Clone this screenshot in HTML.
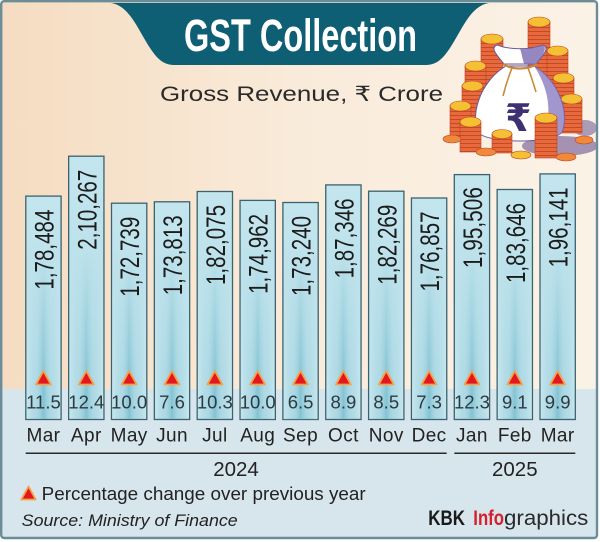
<!DOCTYPE html>
<html><head><meta charset="utf-8"><style>
html,body{margin:0;padding:0;background:#fff;}
svg{display:block;}
text{font-family:"Liberation Sans","DejaVu Sans",sans-serif;}
</style></head><body>
<svg width="600" height="542" viewBox="0 0 600 542" xmlns="http://www.w3.org/2000/svg">
<defs>
<linearGradient id="cream" x1="0" y1="0" x2="1" y2="0">
<stop offset="0" stop-color="#f5dcc1"/><stop offset="0.5" stop-color="#f9ebda"/><stop offset="1" stop-color="#fbf2e7"/>
</linearGradient>
<linearGradient id="barV" x1="0" y1="0" x2="0" y2="1">
<stop offset="0" stop-color="#c3e5ee"/><stop offset="0.6" stop-color="#b9e0ea"/><stop offset="1" stop-color="#b2dbe6"/>
</linearGradient>
<linearGradient id="barH" x1="0" y1="0" x2="1" y2="0">
<stop offset="0" stop-color="#d6eef4" stop-opacity="0.6"/><stop offset="0.3" stop-color="#9fd1de" stop-opacity="0.3"/><stop offset="0.5" stop-color="#7dbfd0" stop-opacity="0.9"/><stop offset="0.7" stop-color="#9fd1de" stop-opacity="0.3"/><stop offset="1" stop-color="#d6eef4" stop-opacity="0.6"/>
</linearGradient>
<linearGradient id="fadeV" gradientUnits="userSpaceOnUse" x1="0" y1="250" x2="0" y2="395">
<stop offset="0" stop-color="#fff" stop-opacity="0"/><stop offset="1" stop-color="#fff" stop-opacity="1"/>
</linearGradient>
<mask id="fm" maskUnits="userSpaceOnUse" x="0" y="0" width="600" height="542">
<rect x="0" y="0" width="600" height="542" fill="url(#fadeV)"/>
</mask>
<pattern id="coins" patternUnits="userSpaceOnUse" x="0" y="0" width="10" height="4">
<rect x="0" y="0" width="10" height="4" fill="#e8693c"/>
<rect x="0" y="3" width="10" height="1" fill="#c24a26"/>
</pattern>
</defs>

<!-- background -->
<rect x="0" y="0" width="600" height="542" fill="#ffffff"/>
<rect x="1" y="1" width="596" height="388" fill="url(#cream)"/>
<rect x="1" y="389" width="596" height="149" fill="#d7e5ec"/>

<!-- banner -->
<path d="M111,3 L489,3 C470,6 462,30 450,48 C442,60 436,65 425,65 L175,65 C164,65 158,60 150,48 C138,30 130,6 111,3 Z" fill="#0e5e74"/>
<text x="184" y="51" font-size="45" font-weight="bold" fill="#ffffff" textLength="233" lengthAdjust="spacingAndGlyphs">GST Collection</text>

<!-- subtitle -->
<text x="160" y="101" font-size="21" fill="#2a2a2a" textLength="283" lengthAdjust="spacingAndGlyphs">Gross Revenue, ₹ Crore</text>

<!-- money bag illustration -->
<g>
<ellipse cx="560" cy="146" rx="38" ry="10" fill="#5e4486" opacity="0.55"/>
<ellipse cx="585" cy="128" rx="12" ry="8" fill="#5e4486" opacity="0.5"/>
<g stroke="#b84422" stroke-width="0.6">
<rect x="528" y="22" width="22" height="55" fill="url(#coins)"/><ellipse cx="539" cy="22" rx="11" ry="5" fill="#f6c035"/>
<rect x="481" y="39" width="22" height="55" fill="url(#coins)"/><ellipse cx="492" cy="39" rx="11" ry="5" fill="#f6c035"/>
<rect x="547" y="51" width="21" height="48" fill="url(#coins)"/><ellipse cx="557.5" cy="51" rx="10.5" ry="5" fill="#f6c035"/>
<rect x="465" y="66" width="21" height="42" fill="url(#coins)"/><ellipse cx="475.5" cy="66" rx="10.5" ry="5" fill="#f6c035"/>
<rect x="553" y="78" width="21" height="44" fill="url(#coins)"/><ellipse cx="563.5" cy="78" rx="10.5" ry="5" fill="#f6c035"/>
<rect x="561" y="99" width="21" height="34" fill="url(#coins)"/><ellipse cx="571.5" cy="99" rx="10.5" ry="5" fill="#f6c035"/>
<rect x="462" y="86" width="21" height="38" fill="url(#coins)"/><ellipse cx="472.5" cy="86" rx="10.5" ry="5" fill="#f6c035"/>
<rect x="450" y="106" width="21" height="34" fill="url(#coins)"/><ellipse cx="460.5" cy="106" rx="10.5" ry="5" fill="#f6c035"/>
</g>
<path d="M506,66 C482,80 470,112 478,132 C486,144 554,144 562,132 C570,112 558,80 534,66 Z" fill="#ffffff" stroke="#6a5aa0" stroke-width="1"/>
<path d="M534,66 C558,80 570,112 562,132 C556,140 545,142 535,142 C552,128 554,96 534,66 Z" fill="#8a7cc0" opacity="0.8"/>
<path d="M504,64 C496,54 490,48 497,45 C510,50 530,50 543,45 C550,48 544,54 536,64 Z" fill="#ffffff" stroke="#6a5aa0" stroke-width="1"/>
<path d="M520,48 C530,50 540,47 543,45 C548,49 542,56 536,64 L524,64 Z" fill="#7a6ab2" opacity="0.8"/>
<path d="M503,64 C512,70 528,70 537,64" fill="none" stroke="#c98a3a" stroke-width="2.2"/>
<path d="M512,68 C508,78 505,88 503,96 M528,68 C532,78 534,86 536,92" fill="none" stroke="#c98a3a" stroke-width="1.6"/>
<text x="505" y="131" font-size="38" font-weight="bold" fill="#3f3073">₹</text>
<g stroke="#b84422" stroke-width="0.6">
<rect x="460" y="122" width="21" height="30" fill="url(#coins)"/><ellipse cx="470.5" cy="122" rx="10.5" ry="5" fill="#f6c035"/>
<rect x="492" y="134" width="20" height="19" fill="url(#coins)"/><ellipse cx="502" cy="134" rx="10" ry="4.5" fill="#f6c035"/>
<rect x="535" y="118" width="22" height="40" fill="url(#coins)"/><ellipse cx="546" cy="118" rx="11" ry="5" fill="#f6c035"/>
<ellipse cx="521" cy="155" rx="10" ry="4" fill="#f6c035"/>
<ellipse cx="486" cy="152" rx="10" ry="4" fill="#f08a3a"/>
<ellipse cx="566" cy="157" rx="10" ry="4" fill="#f08a3a"/>
<ellipse cx="452" cy="139" rx="9" ry="4" fill="#f08a3a"/>
<ellipse cx="584" cy="140" rx="9" ry="4" fill="#f08a3a"/>
</g>
</g>

<!-- bars -->
<g stroke="#3b626e" stroke-width="1.3" fill="url(#barV)">
<rect x="25.8" y="196.1" width="35.3" height="223.4"/>
<rect x="68.65" y="156.2" width="35.3" height="263.3"/>
<rect x="111.5" y="203.2" width="35.3" height="216.3"/>
<rect x="154.35" y="201.8" width="35.3" height="217.7"/>
<rect x="197.2" y="191.5" width="35.3" height="228"/>
<rect x="240.05" y="200.4" width="35.3" height="219.1"/>
<rect x="282.9" y="202.5" width="35.3" height="217"/>
<rect x="325.75" y="184.9" width="35.3" height="234.6"/>
<rect x="368.6" y="191.2" width="35.3" height="228.3"/>
<rect x="411.45" y="198.0" width="35.3" height="221.5"/>
<rect x="454.3" y="174.6" width="35.3" height="244.9"/>
<rect x="497.15" y="189.5" width="35.3" height="230"/>
<rect x="540.0" y="173.9" width="35.3" height="245.6"/>
</g>
<g mask="url(#fm)" fill="url(#barH)">
<rect x="26.5" y="196.8" width="33.9" height="222"/>
<rect x="69.35" y="156.9" width="33.9" height="262"/>
<rect x="112.2" y="203.9" width="33.9" height="215"/>
<rect x="155.05" y="202.5" width="33.9" height="216"/>
<rect x="197.9" y="192.2" width="33.9" height="226"/>
<rect x="240.75" y="201.1" width="33.9" height="218"/>
<rect x="283.6" y="203.2" width="33.9" height="216"/>
<rect x="326.45" y="185.6" width="33.9" height="233"/>
<rect x="369.3" y="191.9" width="33.9" height="227"/>
<rect x="412.15" y="198.7" width="33.9" height="220"/>
<rect x="455.0" y="175.3" width="33.9" height="243"/>
<rect x="497.85" y="190.2" width="33.9" height="229"/>
<rect x="540.7" y="174.6" width="33.9" height="244"/>
</g>

<!-- value labels (rotated) -->
<g font-size="27" fill="#1c1c1c">
<text transform="translate(53.45,289.6) rotate(-90)" textLength="80" lengthAdjust="spacingAndGlyphs">1,78,484</text>
<text transform="translate(96.3,249.7) rotate(-90)" textLength="80" lengthAdjust="spacingAndGlyphs">2,10,267</text>
<text transform="translate(139.15,296.7) rotate(-90)" textLength="80" lengthAdjust="spacingAndGlyphs">1,72,739</text>
<text transform="translate(182.0,295.3) rotate(-90)" textLength="80" lengthAdjust="spacingAndGlyphs">1,73,813</text>
<text transform="translate(224.85,285.0) rotate(-90)" textLength="80" lengthAdjust="spacingAndGlyphs">1,82,075</text>
<text transform="translate(267.7,293.9) rotate(-90)" textLength="80" lengthAdjust="spacingAndGlyphs">1,74,962</text>
<text transform="translate(310.55,296.0) rotate(-90)" textLength="80" lengthAdjust="spacingAndGlyphs">1,73,240</text>
<text transform="translate(353.4,278.4) rotate(-90)" textLength="80" lengthAdjust="spacingAndGlyphs">1,87,346</text>
<text transform="translate(396.25,284.7) rotate(-90)" textLength="80" lengthAdjust="spacingAndGlyphs">1,82,269</text>
<text transform="translate(439.1,291.5) rotate(-90)" textLength="80" lengthAdjust="spacingAndGlyphs">1,76,857</text>
<text transform="translate(481.95,268.1) rotate(-90)" textLength="81" lengthAdjust="spacingAndGlyphs">1,95,506</text>
<text transform="translate(524.8,283.0) rotate(-90)" textLength="80" lengthAdjust="spacingAndGlyphs">1,83,646</text>
<text transform="translate(567.65,267.4) rotate(-90)" textLength="80" lengthAdjust="spacingAndGlyphs">1,96,141</text>
</g>

<!-- triangles -->
<g fill="#e3171d" stroke="#f4a24a" stroke-width="1.8" stroke-linejoin="round">
<polygon points="43.45,371 36,384.5 50.9,384.5"/>
<polygon points="86.3,371 78.85,384.5 93.75,384.5"/>
<polygon points="129.15,371 121.7,384.5 136.6,384.5"/>
<polygon points="172.0,371 164.55,384.5 179.45,384.5"/>
<polygon points="214.85,371 207.4,384.5 222.3,384.5"/>
<polygon points="257.7,371 250.25,384.5 265.15,384.5"/>
<polygon points="300.55,371 293.1,384.5 308.0,384.5"/>
<polygon points="343.4,371 335.95,384.5 350.85,384.5"/>
<polygon points="386.25,371 378.8,384.5 393.7,384.5"/>
<polygon points="429.1,371 421.65,384.5 436.55,384.5"/>
<polygon points="471.95,371 464.5,384.5 479.4,384.5"/>
<polygon points="514.8,371 507.35,384.5 522.25,384.5"/>
<polygon points="557.65,371 550.2,384.5 565.1,384.5"/>
<polygon points="28.5,486.5 21.3,499.5 35.7,499.5"/>
</g>

<!-- percentages -->
<g font-size="18.5" fill="#2c3a42" text-anchor="middle">
<text x="43.45" y="408.3">11.5</text>
<text x="86.3" y="408.3">12.4</text>
<text x="129.15" y="408.3">10.0</text>
<text x="172.0" y="408.3">7.6</text>
<text x="214.85" y="408.3">10.3</text>
<text x="257.7" y="408.3">10.0</text>
<text x="300.55" y="408.3">6.5</text>
<text x="343.4" y="408.3">8.9</text>
<text x="386.25" y="408.3">8.5</text>
<text x="429.1" y="408.3">7.3</text>
<text x="471.95" y="408.3">12.3</text>
<text x="514.8" y="408.3">9.1</text>
<text x="557.65" y="408.3">9.9</text>
</g>

<!-- months -->
<g font-size="19" fill="#222" text-anchor="middle" letter-spacing="0.4">
<text x="43.45" y="441.7">Mar</text>
<text x="86.3" y="441.7">Apr</text>
<text x="129.15" y="441.7">May</text>
<text x="172.0" y="441.7">Jun</text>
<text x="214.85" y="441.7">Jul</text>
<text x="257.7" y="441.7">Aug</text>
<text x="300.55" y="441.7">Sep</text>
<text x="343.4" y="441.7">Oct</text>
<text x="386.25" y="441.7">Nov</text>
<text x="429.1" y="441.7">Dec</text>
<text x="471.95" y="441.7">Jan</text>
<text x="514.8" y="441.7">Feb</text>
<text x="557.65" y="441.7">Mar</text>
</g>

<!-- year lines -->
<line x1="25.7" y1="453.3" x2="446.7" y2="453.3" stroke="#2a2a2a" stroke-width="1.5"/>
<line x1="454.3" y1="453.3" x2="575.3" y2="453.3" stroke="#2a2a2a" stroke-width="1.5"/>
<text x="236" y="476" font-size="20.5" fill="#222" text-anchor="middle">2024</text>
<text x="514.8" y="476" font-size="20.5" fill="#222" text-anchor="middle">2025</text>

<!-- legend / source -->
<text x="41.7" y="500" font-size="18" fill="#222" textLength="324" lengthAdjust="spacingAndGlyphs">Percentage change over previous year</text>
<text x="21.7" y="526" font-size="17" font-style="italic" fill="#222" textLength="216" lengthAdjust="spacingAndGlyphs">Source: Ministry of Finance</text>

<!-- credit -->
<text x="428.3" y="525" font-size="21" font-weight="bold" fill="#1a1a1a" textLength="36.7" lengthAdjust="spacingAndGlyphs">KBK</text>
<text x="473.3" y="525" font-size="21" font-weight="bold" fill="#d61f2b" textLength="30.7" lengthAdjust="spacingAndGlyphs">Info</text>
<text x="504" y="525" font-size="21" fill="#2a2a2a" textLength="84.3" lengthAdjust="spacingAndGlyphs">graphics</text>

<!-- frame -->
<rect x="1.2" y="1.2" width="595.8" height="536.8" rx="3" fill="none" stroke="#6c8d97" stroke-width="2.4"/>
</svg>
</body></html>
